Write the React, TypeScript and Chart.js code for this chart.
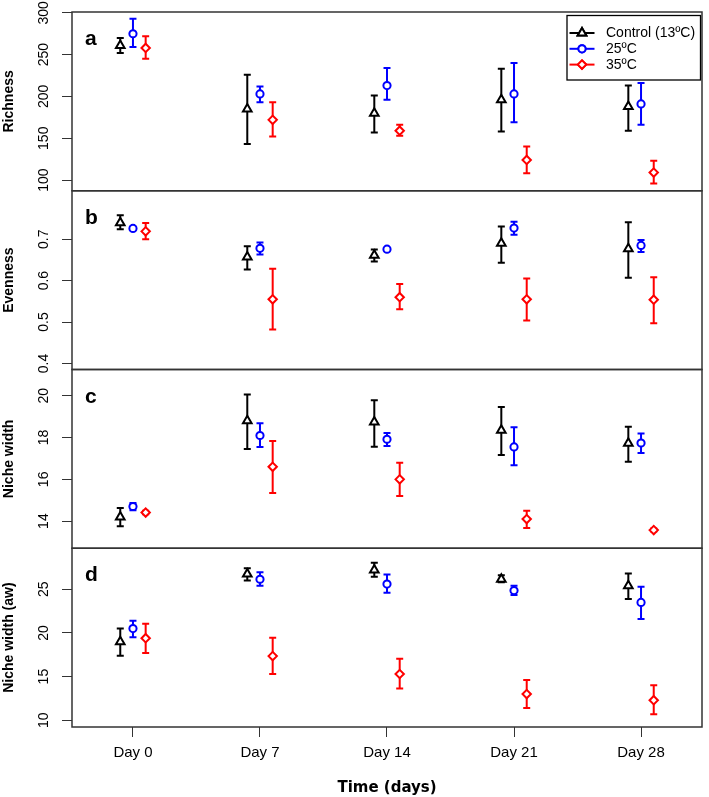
import React, { useEffect, useRef } from "react";
import { Chart, registerables } from "chart.js";
import { drawPoint } from "chart.js/helpers";

Chart.register(...registerables);

// ---------- data ----------
const days = ["Day 0", "Day 7", "Day 14", "Day 21", "Day 28"];
const seriesNames = ["Control (13ºC)", "25ºC", "35ºC"];

// Richness
const richnessControl = [261, 185, 180, 196, 188];
const richnessControlLow = [252, 143, 157, 158, 159];
const richnessControlHigh = [270, 226, 201, 233, 213];
const richness25 = [275, 203, 213, 203, 191];
const richness25Low = [259, 193, 196, 169, 166];
const richness25High = [293, 212, 234, 240, 216];
const richness35 = [258, 172, 159, 124, 109];
const richness35Low = [245, 152, 153, 108, 96];
const richness35High = [272, 193, 166, 140, 123];

// Evenness
const evennessControl = [0.74, 0.657, 0.661, 0.69, 0.677];
const evennessControlLow = [0.724, 0.627, 0.646, 0.643, 0.607];
const evennessControlHigh = [0.758, 0.683, 0.675, 0.731, 0.741];
const evenness25 = [0.726, 0.678, 0.676, 0.727, 0.685];
const evenness25Low = [0.722, 0.663, 0.673, 0.711, 0.669];
const evenness25High = [0.73, 0.692, 0.679, 0.742, 0.698];
const evenness35 = [0.719, 0.555, 0.56, 0.555, 0.554];
const evenness35Low = [0.7, 0.482, 0.531, 0.504, 0.497];
const evenness35High = [0.739, 0.629, 0.592, 0.605, 0.608];

// Niche width
const nicheControl = [14.2, 18.8, 18.75, 18.35, 17.73];
const nicheControlLow = [13.75, 17.45, 17.56, 17.16, 16.84];
const nicheControlHigh = [14.63, 20.06, 19.79, 19.46, 18.52];
const niche25 = [14.7, 18.1, 17.92, 17.55, 17.74];
const niche25Low = [14.52, 17.55, 17.6, 16.68, 17.26];
const niche25High = [14.87, 18.69, 18.22, 18.5, 18.19];
const niche35 = [14.41, 16.6, 16.0, 14.1, 13.57];
const niche35Low = [14.33, 15.35, 15.2, 13.67, 13.5];
const niche35High = [14.49, 17.84, 16.8, 14.49, 13.64];

// Niche width (aw)
const nicheAwControl = [19.0, 26.75, 27.2, 26.15, 25.4];
const nicheAwControlLow = [17.4, 26.0, 26.45, 25.8, 23.9];
const nicheAwControlHigh = [20.5, 27.4, 28.05, 26.6, 26.8];
const nicheAw25 = [20.5, 26.15, 25.6, 24.85, 23.5];
const nicheAw25Low = [19.5, 25.4, 24.6, 24.35, 21.6];
const nicheAw25High = [21.4, 26.95, 26.7, 25.4, 25.3];
const nicheAw35 = [19.4, 17.35, 15.3, 13.0, 12.3];
const nicheAw35Low = [17.7, 15.3, 13.65, 11.4, 10.7];
const nicheAw35High = [21.06, 19.45, 17.05, 14.6, 14.0];

// tick labels
const richnessTicks = [100, 150, 200, 250, 300];
const evennessTicks = [0.4, 0.5, 0.6, 0.7];
const nicheTicks = [14, 16, 18, 20];
const nicheAwTicks = [10, 15, 20, 25];

// ---------- styling ----------
const COLORS = ["#000000", "#0000FF", "#FF0000"];
const STYLES = ["triangle", "circle", "rectRot"];
const RADII = [5, 3.6, 4.2];
const DODGE = [-0.1, 0, 0.1];
const FONT = "'Liberation Sans', Arial, sans-serif";
const BOX = "#333333";

const panels = [
  {
    id: "yA", letter: "a", title: "Richness", min: 87.2, max: 301, ticks: richnessTicks,
    series: [
      [richnessControl, richnessControlLow, richnessControlHigh],
      [richness25, richness25Low, richness25High],
      [richness35, richness35Low, richness35High],
    ],
  },
  {
    id: "yB", letter: "b", title: "Evenness", min: 0.3855, max: 0.817, ticks: evennessTicks,
    series: [
      [evennessControl, evennessControlLow, evennessControlHigh],
      [evenness25, evenness25Low, evenness25High],
      [evenness35, evenness35Low, evenness35High],
    ],
  },
  {
    id: "yC", letter: "c", title: "Niche width", min: 12.7, max: 21.26, ticks: nicheTicks,
    series: [
      [nicheControl, nicheControlLow, nicheControlHigh],
      [niche25, niche25Low, niche25High],
      [niche35, niche35Low, niche35High],
    ],
  },
  {
    id: "yD", letter: "d", title: "Niche width (aw)", min: 9.23, max: 29.7, ticks: nicheAwTicks,
    series: [
      [nicheAwControl, nicheAwControlLow, nicheAwControlHigh],
      [nicheAw25, nicheAw25Low, nicheAw25High],
      [nicheAw35, nicheAw35Low, nicheAw35High],
    ],
  },
];

const errorBarPlugin = {
  id: "errorBars",
  beforeDatasetsDraw(chart: any) {
    const ctx = chart.ctx;
    chart.data.datasets.forEach((ds: any, i: number) => {
      const meta = chart.getDatasetMeta(i);
      const yScale = chart.scales[meta.yAxisID];
      ctx.save();
      ctx.strokeStyle = ds.borderColor;
      ctx.lineWidth = 2;
      meta.data.forEach((pt: any, j: number) => {
        const d = ds.data[j];
        const x = pt.x;
        const yl = yScale.getPixelForValue(d.lo);
        const yh = yScale.getPixelForValue(d.hi);
        const cap = 3.5;
        ctx.beginPath();
        ctx.moveTo(x, yl);
        ctx.lineTo(x, yh);
        ctx.moveTo(x - cap, yl);
        ctx.lineTo(x + cap, yl);
        ctx.moveTo(x - cap, yh);
        ctx.lineTo(x + cap, yh);
        ctx.stroke();
      });
      ctx.restore();
    });
  },
};

const decorPlugin = {
  id: "decor",
  afterDraw(chart: any) {
    const ctx = chart.ctx;
    const area = chart.chartArea;
    ctx.save();
    panels.forEach((p) => {
      const s = chart.scales[p.id];
      // panel box
      ctx.strokeStyle = BOX;
      ctx.lineWidth = 1.5;
      ctx.strokeRect(area.left, s.top, area.right - area.left, s.bottom - s.top);
      // rotated tick labels
      ctx.fillStyle = "#000";
      ctx.font = `14px ${FONT}`;
      ctx.textAlign = "center";
      ctx.textBaseline = "middle";
      p.ticks.forEach((v) => {
        const y = s.getPixelForValue(v);
        ctx.save();
        ctx.translate(area.left - 27.5, y);
        ctx.rotate(-Math.PI / 2);
        ctx.fillText(String(v), 0, 0);
        ctx.restore();
      });
      // panel letter
      ctx.font = `bold 21px ${FONT}`;
      ctx.textAlign = "left";
      ctx.textBaseline = "alphabetic";
      ctx.fillText(p.letter, area.left + 13, s.top + 33);
    });
    // legend
    const bw = 133.5;
    const bh = 64.5;
    const bx = area.right - 1.5 - bw;
    const by = area.top + 3.5;
    ctx.fillStyle = "#fff";
    ctx.fillRect(bx, by, bw, bh);
    ctx.strokeStyle = "#000";
    ctx.lineWidth = 1.3;
    ctx.strokeRect(bx, by, bw, bh);
    seriesNames.forEach((name, k) => {
      const y = by + 17.5 + k * 15.8;
      ctx.strokeStyle = COLORS[k];
      ctx.lineWidth = 2;
      ctx.beginPath();
      ctx.moveTo(bx + 2.5, y);
      ctx.lineTo(bx + 27.5, y);
      ctx.stroke();
      ctx.fillStyle = "#fff";
      drawPoint(ctx, { pointStyle: STYLES[k], radius: RADII[k], borderWidth: 2, rotation: 0 } as any, bx + 15, y);
      ctx.fill();
      ctx.stroke();
      ctx.fillStyle = "#000";
      ctx.font = `14px ${FONT}`;
      ctx.textAlign = "left";
      ctx.textBaseline = "middle";
      ctx.fillText(name, bx + 39, y + 0.5);
    });
    ctx.restore();
  },
};

export default function App() {
  const ref = useRef<HTMLCanvasElement | null>(null);

  useEffect(() => {
    document.body.style.margin = "0";
    const canvas = ref.current;
    if (!canvas) return;

    const datasets: any[] = [];
    panels.forEach((p) => {
      p.series.forEach(([mean, low, high], k) => {
        datasets.push({
          label: `${p.letter}-${seriesNames[k]}`,
          yAxisID: p.id,
          xAxisID: "x",
          data: days.map((_, i) => ({ x: i + DODGE[k], y: mean[i], lo: low[i], hi: high[i] })),
          borderColor: COLORS[k],
          backgroundColor: "#ffffff",
          pointStyle: STYLES[k],
          pointRadius: RADII[k],
          pointHoverRadius: RADII[k],
          pointBorderWidth: 2,
          pointBorderColor: COLORS[k],
          pointBackgroundColor: "#ffffff",
          showLine: false,
        });
      });
    });

    const scales: any = {
      x: {
        type: "linear",
        position: "bottom",
        min: -0.48,
        max: 4.48,
        afterBuildTicks: (s: any) => {
          s.ticks = days.map((_, i) => ({ value: i }));
        },
        afterFit: (s: any) => {
          s.height = 70;
        },
        ticks: {
          callback: (v: any) => days[Math.round(v)],
          font: { family: FONT, size: 15 },
          color: "#000",
          padding: 7,
          maxRotation: 0,
          autoSkip: false,
        },
        grid: { drawOnChartArea: false, drawTicks: true, tickLength: 10, color: BOX, lineWidth: 1 },
        border: { display: false },
        title: {
          display: true,
          text: "Time (days)",
          font: { family: "'DejaVu Sans', Verdana, sans-serif", weight: "bold", size: 15 },
          color: "#000",
          padding: { top: 0, bottom: 0 },
        },
      },
    };
    panels.forEach((p, idx) => {
      scales[p.id] = {
        type: "linear",
        position: "left",
        stack: "panels",
        stackWeight: 1,
        weight: 10 - idx,
        min: p.min,
        max: p.max,
        afterBuildTicks: (s: any) => {
          s.ticks = p.ticks.map((v) => ({ value: v }));
        },
        afterFit: (s: any) => {
          s.width = 72;
        },
        ticks: { display: false },
        grid: { drawOnChartArea: false, drawTicks: true, tickLength: 10, color: BOX, lineWidth: 1 },
        border: { display: false },
        title: {
          display: true,
          text: p.title,
          font: { family: FONT, weight: "bold", size: 14 },
          color: "#000",
          padding: { top: 1, bottom: 0 },
        },
      };
    });

    const chart = new Chart(canvas, {
      type: "scatter",
      data: { datasets },
      options: {
        responsive: false,
        animation: false,
        devicePixelRatio: 1,
        layout: { padding: { left: 0, right: 2, top: 12, bottom: 0 } },
        plugins: {
          legend: { display: false },
          tooltip: { enabled: false },
        },
        scales,
      } as any,
      plugins: [errorBarPlugin, decorPlugin],
    });
    return () => chart.destroy();
  }, []);

  return (
    <div style={{ width: 709, height: 797, background: "#fff" }}>
      <canvas ref={ref} width={709} height={797} style={{ display: "block" }} />
    </div>
  );
}
